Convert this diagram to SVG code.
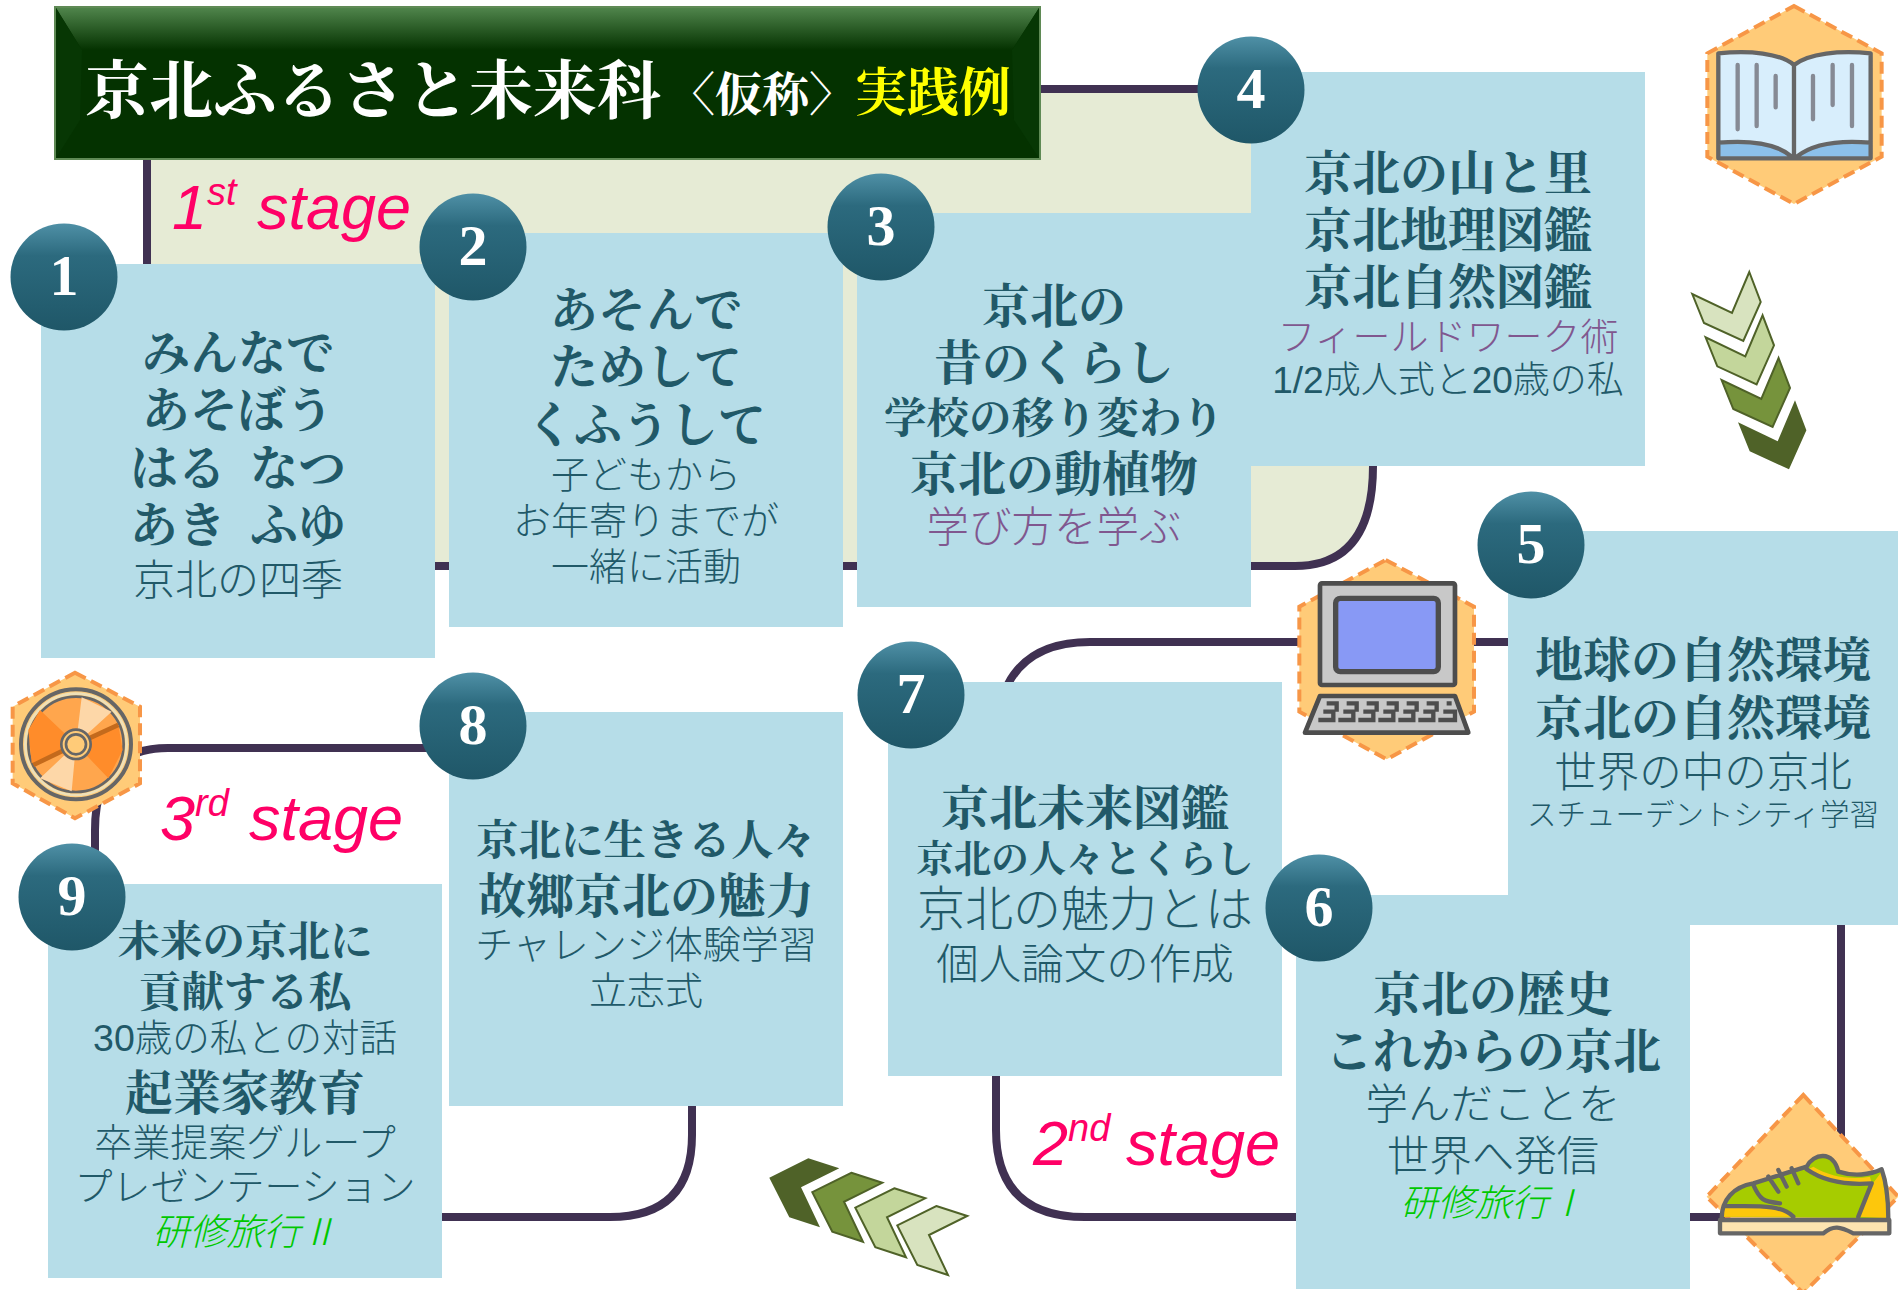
<svg xmlns="http://www.w3.org/2000/svg" width="1898" height="1290" viewBox="0 0 1898 1290">
<style>
.box{fill:#b6dde8}
.num{fill:#fff;font:bold 58px "Liberation Serif",serif;text-anchor:middle}
.t{text-anchor:middle;fill:#215968}
.b{font-family:"Liberation Serif","Noto Serif CJK JP","Noto Sans CJK JP",serif;font-weight:700}
.l{font-family:"Liberation Sans","Noto Sans CJK JP",sans-serif;font-weight:300}
.p{fill:#80578f}
.g{fill:#00c800;font-style:italic;font-family:"Noto Sans CJK JP",sans-serif}
.stage{fill:#ff0066;font:italic 63px "Liberation Sans",sans-serif}
.conn{fill:none;stroke:#403152;stroke-width:8}
.hex{fill:#ffcb78;stroke:#f79646;stroke-width:12;stroke-dasharray:36 18}
.dk{stroke:#666;fill:none;stroke-width:13;stroke-linejoin:round;stroke-linecap:round}
.chev{stroke:#4f6228;stroke-width:2}
.hd{font-family:"Noto Serif CJK JP","Liberation Serif","Noto Sans CJK JP",serif;font-weight:700}
</style>
<defs>
<linearGradient id="ball" x1="0" y1="0" x2="0" y2="1"><stop offset="0" stop-color="#4f90a6"/><stop offset=".3" stop-color="#2c6a7e"/><stop offset="1" stop-color="#1f5768"/></linearGradient>
<linearGradient id="bev" x1="0" y1="0" x2="0" y2="1"><stop offset="0" stop-color="#4f844b"/><stop offset="1" stop-color="#043200"/></linearGradient>
<polygon id="cd" points="99.3,272 110.7,302 93.3,341 54,323 42.3,294 82,313"/>
<polygon id="cl" points="808.3,1158.3 839.3,1168.3 801,1187.3 820,1227.3 789.3,1217.3 769.3,1177.7"/>
</defs>

<path d="M150,159V565H1295Q1373,565 1373,466H1251V89H1040V159Z" fill="#e6ebd5"/>
<g id="connectors">
<path class="conn" d="M1040,89H1251"/>
<path class="conn" d="M147,159V264"/>
<path class="conn" d="M435,566H1295Q1373,566 1373,466"/>
<path class="conn" d="M1508,642H1090Q1030,642 1008,684"/>
<path class="conn" d="M1841,925V1140"/>
<path class="conn" d="M1690,1217H1730"/>
<path class="conn" d="M996,1076V1130Q996,1217 1085,1217H1296"/>
<path class="conn" d="M692,1106V1135Q692,1217 610,1217H442"/>
<path class="conn" d="M450,748H168Q95,748 95,830V860"/>
</g>

<g id="title">
<rect x="55" y="7" width="985" height="152" fill="#043200" stroke="#5f8a55" stroke-width="2"/>
<polygon points="56,8 1039,8 1012,50 82,50" fill="url(#bev)"/>
<polygon points="56,8 82,50 80,120 56,158" fill="#073704"/>
<polygon points="1039,8 1012,50 1014,120 1039,158" fill="#073704"/>
<text class="hd" x="85" y="113" font-size="64" fill="#fff">京北ふるさと未来科</text>
<text class="hd" x="668" y="111" font-size="47" fill="#fff">〈仮称〉</text>
<text class="hd" x="855" y="111" font-size="52" fill="#ff0">実践例</text>
</g>

<text class="stage" x="172" y="229">1<tspan font-size="38" dy="-24">st</tspan><tspan x="257" dy="24">stage</tspan></text>
<text class="stage" x="160" y="840">3<tspan font-size="38" dy="-24">rd</tspan><tspan x="249" dy="24">stage</tspan></text>
<text class="stage" x="1033" y="1165">2<tspan font-size="38" dy="-24">nd</tspan><tspan x="1126" dy="24">stage</tspan></text>

<g id="node1">
<rect class="box" x="41" y="264" width="394" height="394"/>
<circle cx="64" cy="277" r="53.5" fill="url(#ball)"/><text class="num" x="64" y="295">1</text>
<text class="t b" x="238" y="370" font-size="48">みんなで</text>
<text class="t b" x="238" y="427" font-size="48">あそぼう</text>
<text class="t b" x="238" y="485" font-size="48" xml:space="preserve">はる  なつ</text>
<text class="t b" x="238" y="542" font-size="48" xml:space="preserve">あき  ふゆ</text>
<text class="t l" x="238" y="595" font-size="42">京北の四季</text>
</g>

<g id="node2">
<rect class="box" x="449" y="233" width="394" height="394"/>
<circle cx="473" cy="247" r="53.5" fill="url(#ball)"/><text class="num" x="473" y="265">2</text>
<text class="t b" x="646" y="327" font-size="48">あそんで</text>
<text class="t b" x="646" y="384" font-size="48">ためして</text>
<text class="t b" x="646" y="442" font-size="48">くふうして</text>
<text class="t l" x="646" y="488" font-size="38">子どもから</text>
<text class="t l" x="646" y="534" font-size="38">お年寄りまでが</text>
<text class="t l" x="646" y="580" font-size="38">一緒に活動</text>
</g>

<g id="node3">
<rect class="box" x="857" y="213" width="394" height="394"/>
<circle cx="881" cy="227" r="53.5" fill="url(#ball)"/><text class="num" x="881" y="245">3</text>
<text class="t b" x="1054" y="323" font-size="48">京北の</text>
<text class="t b" x="1054" y="380" font-size="48">昔のくらし</text>
<text class="t b" x="1054" y="433" font-size="42.5">学校の移り変わり</text>
<text class="t b" x="1054" y="491" font-size="48">京北の動植物</text>
<text class="t l p" x="1054" y="542" font-size="42.5">学び方を学ぶ</text>
</g>

<g id="node4">
<rect class="box" x="1251" y="72" width="394" height="394"/>
<circle cx="1251" cy="90" r="53.5" fill="url(#ball)"/><text class="num" x="1251" y="108">4</text>
<text class="t b" x="1448" y="190" font-size="48">京北の山と里</text>
<text class="t b" x="1448" y="247" font-size="48">京北地理図鑑</text>
<text class="t b" x="1448" y="304" font-size="48">京北自然図鑑</text>
<text class="t l p" x="1448" y="350" font-size="38">フィールドワーク術</text>
<text class="t l" x="1448" y="393" font-size="37">1/2成人式と20歳の私</text>
</g>

<g id="node5">
<rect class="box" x="1508" y="531" width="390" height="394"/>
<circle cx="1531" cy="545" r="53.5" fill="url(#ball)"/><text class="num" x="1531" y="563">5</text>
<text class="t b" x="1703" y="677" font-size="48">地球の自然環境</text>
<text class="t b" x="1703" y="735" font-size="48">京北の自然環境</text>
<text class="t l" x="1703" y="787" font-size="42.5">世界の中の京北</text>
<text class="t l" x="1703" y="825" font-size="29.5">スチューデントシティ学習</text>
</g>

<g id="node7">
<rect class="box" x="888" y="682" width="394" height="394"/>
<circle cx="911" cy="695" r="53.5" fill="url(#ball)"/><text class="num" x="911" y="713">7</text>
<text class="t b" x="1085" y="825" font-size="48">京北未来図鑑</text>
<text class="t b" x="1085" y="872" font-size="37.5">京北の人々とくらし</text>
<text class="t l" x="1085" y="926" font-size="48">京北の魅力とは</text>
<text class="t l" x="1085" y="979" font-size="42.5">個人論文の作成</text>
</g>

<g id="node6">
<rect class="box" x="1296" y="895" width="394" height="394"/>
<circle cx="1319" cy="908" r="53.5" fill="url(#ball)"/><text class="num" x="1319" y="926">6</text>
<text class="t b" x="1493" y="1011" font-size="48">京北の歴史</text>
<text class="t b" x="1493" y="1068" font-size="48">これからの京北</text>
<text class="t l" x="1493" y="1119" font-size="42.5">学んだことを</text>
<text class="t l" x="1493" y="1171" font-size="42.5">世界へ発信</text>
<text class="t l g" x="1493" y="1216" font-size="37">研修旅行Ⅰ</text>
</g>

<g id="node8">
<rect class="box" x="449" y="712" width="394" height="394"/>
<circle cx="473" cy="726" r="53.5" fill="url(#ball)"/><text class="num" x="473" y="744">8</text>
<text class="t b" x="646" y="855" font-size="42.5">京北に生きる人々</text>
<text class="t b" x="646" y="913" font-size="48">故郷京北の魅力</text>
<text class="t l" x="646" y="958" font-size="38">チャレンジ体験学習</text>
<text class="t l" x="646" y="1004" font-size="38">立志式</text>
</g>

<g id="node9">
<rect class="box" x="48" y="884" width="394" height="394"/>
<circle cx="72" cy="897" r="53.5" fill="url(#ball)"/><text class="num" x="72" y="915">9</text>
<text class="t b" x="245" y="956" font-size="42.5">未来の京北に</text>
<text class="t b" x="245" y="1007" font-size="42.5">貢献する私</text>
<text class="t l" x="245" y="1051" font-size="37.5">30歳の私との対話</text>
<text class="t b" x="245" y="1110" font-size="48">起業家教育</text>
<text class="t l" x="245" y="1156" font-size="38">卒業提案グループ</text>
<text class="t l" x="245" y="1200" font-size="38">プレゼンテーション</text>
<text class="t l g" x="245" y="1245" font-size="37">研修旅行Ⅱ</text>
</g>

<g id="icon-book" transform="translate(1650 0) scale(.3333)">
<polygon class="hex" points="432,18 695,160 695,470 432,612 172,470 172,160"/>
<path d="M205,160C300,150 390,160 432,195C475,160 570,150 662,160V475H205Z" fill="#d8eefc"/>
<path d="M205,428C300,420 380,430 425,470H205ZM662,428C570,420 490,430 440,470H662Z" fill="#8cc0ea"/>
<path class="dk" d="M205,160C300,150 390,160 432,195C475,160 570,150 662,160V475H205ZM432,195V470M205,428C300,420 380,430 425,470M662,428C570,420 490,430 440,470"/>
<path class="dk" style="stroke:#868a94" d="M263,195V388M320,195V378M377,228V322M489,228V358M548,195V315M606,195V378"/>
</g>

<g id="icon-chevrons-down" transform="translate(1650 0)">
<use href="#cd" class="chev" fill="#d8e3bf"/>
<use href="#cd" class="chev" fill="#c3d69b" x="13.3" y="43.3"/>
<use href="#cd" class="chev" fill="#76933c" x="29.3" y="86"/>
<use href="#cd" fill="#4f6228" x="45.7" y="128.3"/>
</g>

<g id="icon-chevrons-left">
<use href="#cl" fill="#4f6228"/>
<use href="#cl" class="chev" fill="#76933c" x="43" y="14.5"/>
<use href="#cl" class="chev" fill="#c3d69b" x="86" y="30"/>
<use href="#cl" class="chev" fill="#d8e3bf" x="128" y="47.7"/>
</g>

<g id="icon-computer" transform="translate(1270 540) scale(.3333)">
<polygon class="hex" points="347,60 612,200 612,515 350,658 88,515 88,200"/>
<rect x="150" y="130" width="405" height="305" rx="6" fill="#c8c8c8" stroke="#4d4d4d" stroke-width="14"/>
<rect x="197" y="175" width="308" height="220" rx="14" fill="#8899f5" stroke="#4d4d4d" stroke-width="16"/>
<polygon points="150,468 555,468 595,578 105,578" fill="#c8c8c8" stroke="#4d4d4d" stroke-width="14" stroke-linejoin="round"/>
<path d="M170,490H200V515M145,540H190V515H160M230,490H260V515M205,540H250V515H220M290,490H320V515M265,540H310V515H280M350,490H380V515M325,540H370V515H340M410,490H440V515M385,540H430V515H400M470,490H500V515M445,540H490V515H460M530,490H545M505,540H555V515H520" fill="none" stroke="#4d4d4d" stroke-width="13"/>
</g>

<g id="icon-shoe" transform="translate(1680 1070) scale(.3333)">
<polygon class="hex" points="370,75 655,380 370,670 80,380"/>
<path d="M125,440C125,390 160,350 220,340L380,290C400,250 460,240 475,305C520,320 570,315 605,298C620,340 625,400 625,445Z" fill="#a6cc00"/>
<path d="M125,440C125,420 130,410 140,405C220,410 300,400 330,440ZM535,440L575,345L605,305L625,445ZM380,300C440,340 510,345 575,340L570,320C510,330 450,320 400,290Z" fill="#fdc70c"/>
<path d="M120,445H628V490H520C480,470 460,465 430,490H120Z" fill="#fde4b0"/>
<path class="dk" d="M125,445C125,390 160,350 220,340L380,290C400,250 460,240 475,305C520,320 570,315 605,298C620,340 625,400 625,445M120,450H628V490H520C480,470 460,465 430,490H120ZM135,408C220,410 300,400 340,440M220,345C240,390 250,395 300,400M535,440L575,340C510,345 440,340 380,298M265,320L295,365M295,300L320,350M335,295L355,340"/>
</g>

<g id="icon-cd" transform="translate(0 650) scale(.3333)">
<polygon class="hex" points="225,68 420,170 420,400 225,505 38,400 38,170"/>
<circle cx="228" cy="283" r="165" fill="none" stroke="#666" stroke-width="12"/>
<circle cx="228" cy="283" r="152" fill="none" stroke="#eee0b8" stroke-width="8"/>
<circle cx="228" cy="283" r="143" fill="#ffa64d" stroke="#666" stroke-width="8"/>
<path d="M228,283L245,142L335,185ZM228,283L215,424L120,385Z" fill="#fdd7a8"/>
<path d="M228,283L120,180L85,240L95,340ZM228,283L355,225L368,300L325,385Z" fill="#ff8c2a"/>
<path d="M228,283L355,225M228,283L100,345" stroke="#c46a1c" stroke-width="14"/>
<circle cx="228" cy="283" r="44" fill="#ffcb78" stroke="#666" stroke-width="8"/>
<circle cx="228" cy="283" r="30" fill="#ffcb78" stroke="#666" stroke-width="8"/>
</g>
</svg>
